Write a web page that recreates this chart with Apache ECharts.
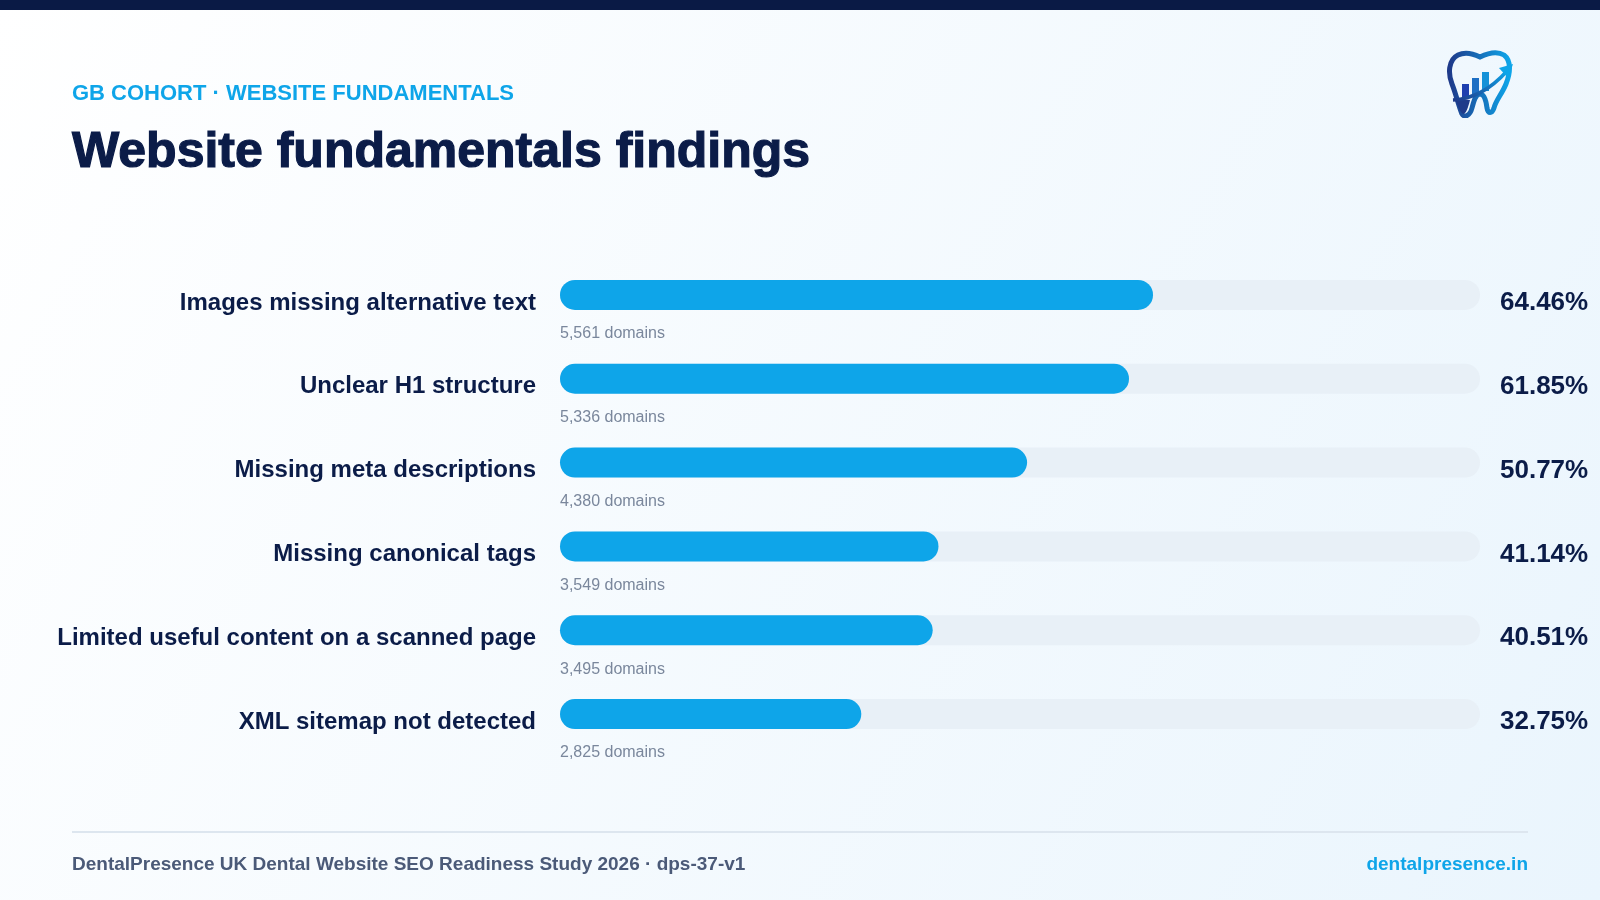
<!DOCTYPE html>
<html>
<head>
<meta charset="utf-8">
<script src="https://cdn.jsdelivr.net/npm/echarts@6/dist/echarts.min.js"></script>
<style>
html,body{margin:0;padding:0;width:1600px;height:900px;overflow:hidden;}
#chart{width:1600px;height:900px;}
</style>
</head>
<body>
<div id="chart"></div>
<script>
const categories = [
  'Images missing alternative text',
  'Unclear H1 structure',
  'Missing meta descriptions',
  'Missing canonical tags',
  'Limited useful content on a scanned page',
  'XML sitemap not detected'
];
const percentages = [64.46, 61.85, 50.77, 41.14, 40.51, 32.75];
const domainCounts = ['5,561', '5,336', '4,380', '3,549', '3,495', '2,825'];
const trackMax = [100, 100, 100, 100, 100, 100];

const FONT = '"Liberation Sans", Arial, Helvetica, sans-serif';
const NAVY = '#0b1c48';
const BLUE = '#0ea5e9';

const logoSvg = '<svg xmlns="http://www.w3.org/2000/svg" width="68" height="68" viewBox="0 0 68 68">' +
  '<defs><linearGradient id="g" x1="0" y1="0" x2="1" y2="0">' +
  '<stop offset="0" stop-color="#1e3a8a"/><stop offset="1" stop-color="#0ea5e9"/></linearGradient>' +
  '<linearGradient id="b" x1="0" y1="1" x2="1" y2="0">' +
  '<stop offset="0" stop-color="#1e3a8a"/><stop offset="1" stop-color="#0ea5e9"/></linearGradient></defs>' +
  '<path d="M16,64 C12,54 10,44 6,34 C2,24 2,10 12,5 C20,1 28,4 34,7 C40,4 50,0 58,5 C66,11 64,24 60,34 C56,44 50,50 48,58 C46,64 42,64 41,58 C40,50 38,44 34,44 C30,44 28,50 26,58 C24,66 18,68 16,64 Z" fill="none" stroke="url(#g)" stroke-width="5"/>' +
  '<path d="M9,48 C12,56 14,62 17,64 C20,64 22,58 24,50 Z" fill="#1e3a8a"/>' +
  '<rect x="16" y="34" width="7" height="14" fill="#1e40af"/>' +
  '<rect x="26" y="28" width="7" height="17" fill="#1d6fc4"/>' +
  '<rect x="36" y="22" width="7" height="19" fill="#1592d8"/>' +
  '<path d="M7,50 C26,49 44,40 61,21" fill="none" stroke="url(#b)" stroke-width="3.5"/>' +
  '<path d="M67,14 L53,18 L62,28 Z" fill="#0ea5e9"/></svg>';
const logoUri = 'data:image/svg+xml;charset=utf-8,' + encodeURIComponent(logoSvg);

const chart = echarts.init(document.getElementById('chart'), null, {renderer: 'canvas'});

chart.setOption({
  backgroundColor: new echarts.graphic.LinearGradient(0, 0, 1, 1, [
    {offset: 0, color: '#ffffff'},
    {offset: 1, color: '#eaf5fd'}
  ]),
  animation: false,
  title: [
    {
      text: 'GB COHORT · WEBSITE FUNDAMENTALS',
      left: 72, top: 83, padding: 0,
      textStyle: {fontFamily: FONT, fontSize: 22, fontWeight: 'bold', color: BLUE}
    },
    {
      text: 'Website fundamentals findings',
      left: 72, top: 128, padding: 0,
      textStyle: {fontFamily: FONT, fontSize: 50, fontWeight: 'bold', color: NAVY,
        textBorderColor: NAVY, textBorderWidth: 1.2}
    }
  ],
  grid: {left: 560, width: 920, top: 253, height: 503, containLabel: false},
  xAxis: {type: 'value', min: 0, max: 100, show: false},
  yAxis: {
    type: 'category', data: categories, inverse: true,
    axisLine: {show: false}, axisTick: {show: false}, splitLine: {show: false},
    axisLabel: {
      margin: 24,
      formatter: v => '{l|' + v + '}',
      rich: {
        l: {fontFamily: FONT, fontSize: 24, fontWeight: 'bold', color: NAVY,
          lineHeight: 28, padding: [16, 0, 0, 0]}
      }
    }
  },
  series: [
    {
      type: 'bar', data: trackMax, barWidth: 30, silent: true, z: 1,
      itemStyle: {color: '#e8f0f7', borderRadius: 15},
      label: {
        show: true, position: 'right', distance: 20, offset: [0, 8],
        formatter: p => percentages[p.dataIndex].toFixed(2) + '%',
        fontFamily: FONT, fontSize: 26, fontWeight: 'bold', color: NAVY
      }
    },
    {
      type: 'bar', data: percentages, barWidth: 30, barGap: '-100%', z: 2,
      itemStyle: {color: BLUE, borderRadius: 15},
      label: {
        show: true, position: [0, 54], align: 'left', verticalAlign: 'middle',
        formatter: p => domainCounts[p.dataIndex] + ' domains',
        fontFamily: FONT, fontSize: 16, color: '#7a879c'
      }
    }
  ],
  graphic: [
    {type: 'rect', left: 0, top: 0, shape: {width: 1600, height: 10}, style: {fill: '#0a1a45'}},
    {type: 'rect', left: 72, top: 831, shape: {width: 1456, height: 2}, style: {fill: '#dde6ef'}},
    {type: 'text', left: 72, top: 855, style: {
      text: 'DentalPresence UK Dental Website SEO Readiness Study 2026 · dps-37-v1',
      font: 'bold 19px ' + FONT, fill: '#4b5a78'}},
    {type: 'text', right: 72, top: 855, style: {
      text: 'dentalpresence.in', font: 'bold 19px ' + FONT, fill: BLUE}},
    {type: 'image', left: 1446, top: 50, style: {image: logoUri, width: 68, height: 68}}
  ]
});
</script>
</body>
</html>
